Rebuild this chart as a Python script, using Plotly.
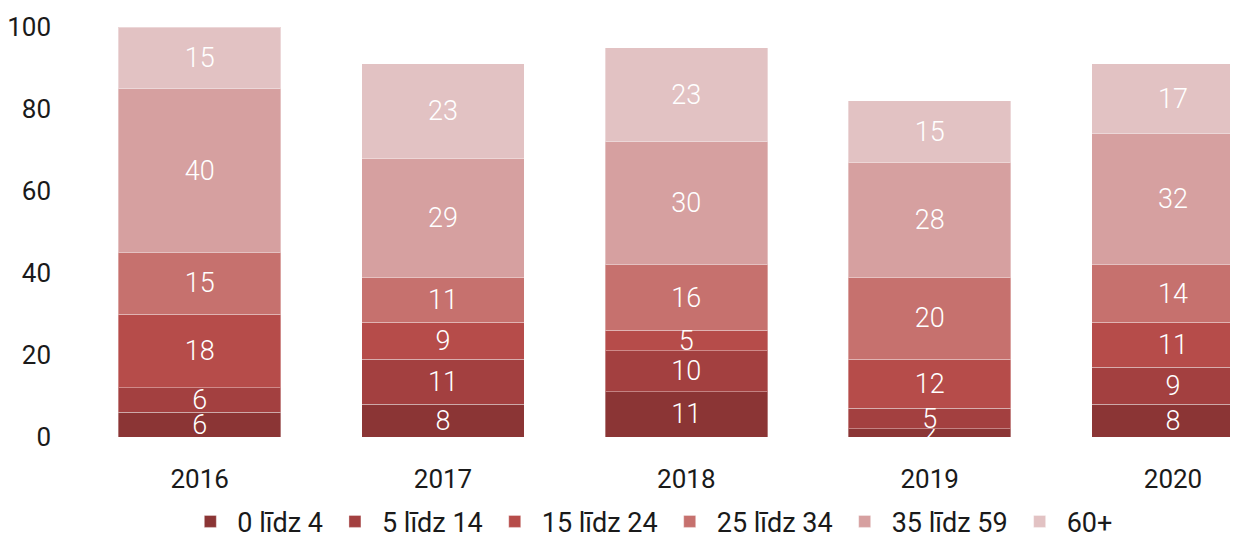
import plotly.graph_objects as go

years = ["2016", "2017", "2018", "2019", "2020"]
groups = ["0 līdz 4", "5 līdz 14", "15 līdz 24", "25 līdz 34", "35 līdz 59", "60+"]
v_0_4 = [6, 8, 11, 2, 8]
v_5_14 = [6, 11, 10, 5, 9]
v_15_24 = [18, 9, 5, 12, 11]
v_25_34 = [15, 11, 16, 20, 14]
v_35_59 = [40, 29, 30, 28, 32]
v_60 = [15, 23, 23, 15, 17]
series = [v_0_4, v_5_14, v_15_24, v_25_34, v_35_59, v_60]
colors = ["#8B3535", "#A34040", "#B64C4A", "#C6716E", "#D6A0A0", "#E2C2C3"]

FONT = "Roboto"
fig = go.Figure()
for name, vals, c in zip(groups, series, colors):
    fig.add_trace(go.Bar(
        x=years, y=vals, name=name,
        marker=dict(color=c, line=dict(color="rgba(255,255,255,0.35)", width=1)),
        text=[str(v) for v in vals], textposition="inside",
        insidetextanchor="middle", textangle=0,
        textfont=dict(color="white", size=27, family=FONT, weight=300),
        constraintext="none",
    ))

fig.update_layout(
    barmode="stack",
    bargap=0.332,
    width=1238, height=539,
    margin=dict(l=70, r=0, t=19, b=110, autoexpand=False),
    plot_bgcolor="white", paper_bgcolor="white",
    font=dict(family=FONT, size=26, color="#1a1a1a"),
    uniformtext=dict(minsize=27, mode="show"),
    xaxis=dict(range=[-0.5, 4.30], showgrid=False, showline=False, ticks="",
               tickfont=dict(size=26), ticklabelstandoff=24, automargin=False),
    yaxis=dict(range=[0, 100], tickvals=[0, 20, 40, 60, 80, 100], showgrid=False,
               zeroline=False, showline=False, ticks="", tickfont=dict(size=26),
               ticklabelstandoff=26, automargin=False),
    legend=dict(orientation="h", x=0.49, xanchor="center", y=-0.207, yanchor="middle",
                font=dict(size=27), traceorder="normal", itemwidth=44),
    showlegend=True,
)
fig.write_html("out.html")
